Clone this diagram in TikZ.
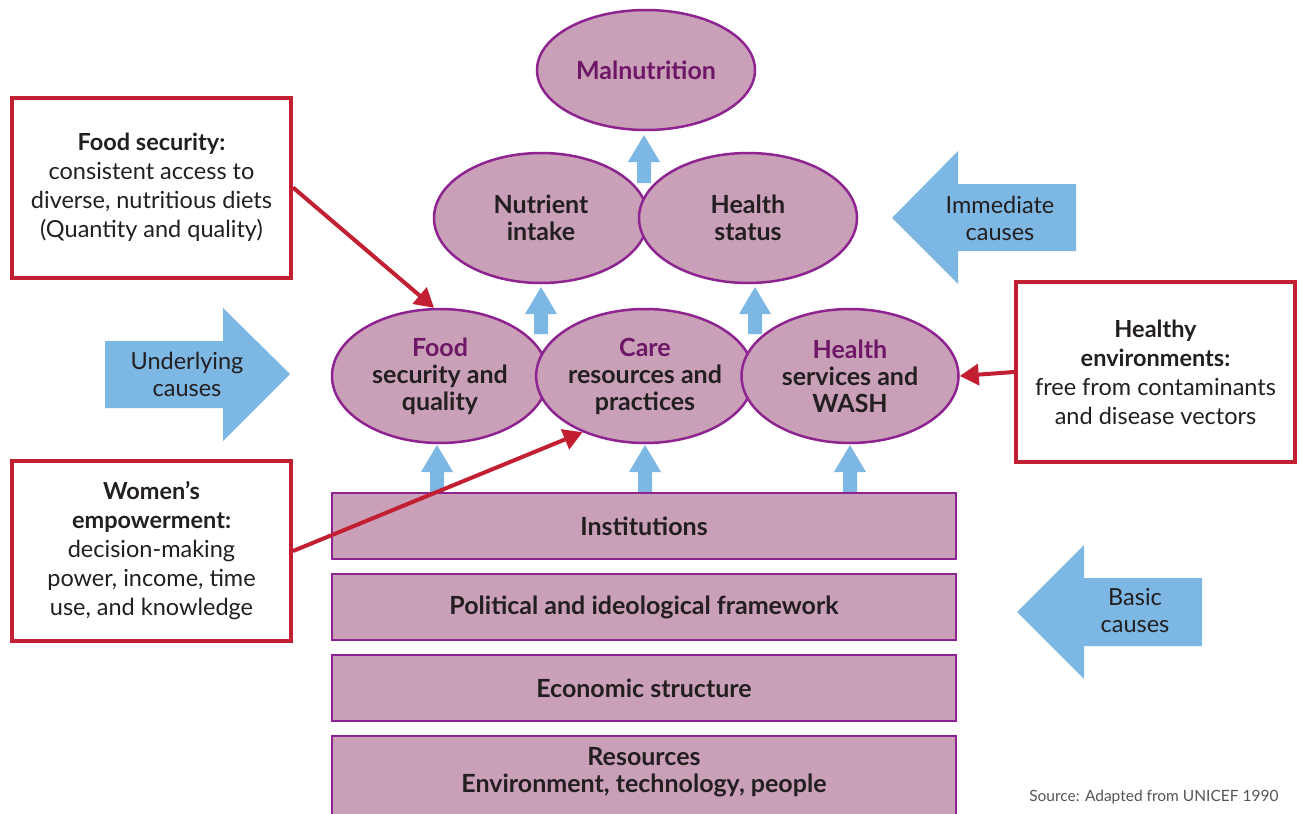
\documentclass[tikz,border=0pt]{standalone}
\usepackage{fontspec}
\setmainfont{Lato}
\usetikzlibrary{shapes.geometric,arrows.meta}
\definecolor{ellfill}{HTML}{C9A0B8}
\definecolor{ellline}{HTML}{8E2490}
\definecolor{purptext}{HTML}{6E1767}
\definecolor{bluearr}{HTML}{7DB7E3}
\definecolor{redline}{HTML}{C21F32}
\definecolor{txt}{HTML}{231F20}
\definecolor{srcgray}{HTML}{555555}
\newcommand\blueup[3]{%
  \fill[bluearr] (#1,#2) -- (#1+16,#2+27) -- (#1+7,#2+27) -- (#1+7,#3) -- (#1-7,#3) -- (#1-7,#2+27) -- (#1-16,#2+27) -- cycle;}
\tikzset{
  ell/.style={ellipse, draw=ellline, fill=ellfill, line width=2.5pt, inner sep=0pt, align=center,
    text=txt, font=\fontsize{25}{27}\selectfont\bfseries},
  layerbox/.style={rectangle, draw=ellline, fill=ellfill, line width=2.5pt, inner sep=0pt,
    minimum width=624pt, minimum height=66pt, align=center, text=txt, font=\fontsize{25}{27}\selectfont\bfseries},
  redbox/.style={rectangle, draw=redline, fill=white, line width=4pt, inner sep=0pt,
    minimum width=279pt, minimum height=180pt, align=center, text=txt, font=\fontsize{23.5}{29}\selectfont},
  bluelabel/.style={align=center, text=txt, font=\fontsize{23.5}{27}\selectfont},
  redarrow/.style={draw=redline, line width=4pt, -{Triangle[length=19pt,width=21pt]}},
}
\begin{document}
\begin{tikzpicture}[x=1pt,y=-1pt]
\clip (0,0) rectangle (1299,814);
\fill[white] (0,0) rectangle (1299,814);

% big blue arrows
\fill[bluearr] (892,218) -- (958,151) -- (958,184) -- (1076,184) -- (1076,251) -- (958,251) -- (958,284) -- cycle;
\node[bluelabel] (immlab) at (1000,218) {Immediate\\causes};
\fill[bluearr] (290,374) -- (223,308) -- (223,341) -- (105,341) -- (105,408) -- (223,408) -- (223,441) -- cycle;
\node[bluelabel] (undlab) at (187,374) {Underlying\\causes};
\fill[bluearr] (1017,612) -- (1084,545) -- (1084,578) -- (1202,578) -- (1202,646) -- (1084,646) -- (1084,679) -- cycle;
\node[bluelabel] (baslab) at (1135,611) {Basic\\causes};

% small up arrows
\blueup{644}{135}{183}
\blueup{541}{287}{334}
\blueup{755}{287}{334}
\blueup{437}{445}{492}
\blueup{645}{445}{492}
\blueup{850}{445}{492}

% ellipses
\node[ell, minimum width=218pt, minimum height=120pt, text=purptext] (mal) at (646,70) {Malnutrition};
\node[ell, minimum width=214pt, minimum height=130pt] (nut) at (541,218) {Nutrient\\intake};
\node[ell, minimum width=218pt, minimum height=130pt] (hst) at (748,218) {Health\\status};
\node[ell, minimum width=216pt, minimum height=134pt] (food) at (440,376) {\textcolor{purptext}{Food}\\security and\\quality};
\node[ell, minimum width=214pt, minimum height=134pt] (care) at (645,376) {\textcolor{purptext}{Care}\\resources and\\practices};
\node[ell, minimum width=217pt, minimum height=134pt] (hsw) at (850,376) {\textcolor{purptext}{Health}\\services and\\WASH};

% layer boxes
\node[layerbox] (inst) at (644,526) {Institutions};
\node[layerbox] (pol) at (644,607) {Political and ideological framework};
\node[layerbox] (eco) at (644,688) {Economic structure};
\node[layerbox, minimum height=100pt] (res) at (644,786) {};
\node[align=center, text=txt, font=\fontsize{25}{27}\selectfont\bfseries] (reslab) at (644,772) {Resources\\Environment, technology, people};

% red boxes
\node[redbox] (fs) at (151.5,187.5) {\textbf{Food security:}\\consistent access to\\diverse, nutritious diets\\(Quantity and quality)};
\node[redbox] (we) at (151.5,551) {\textbf{Women’s}\\\textbf{empowerment:}\\decision-making\\power, income, time\\use, and knowledge};
\node[redbox] (he) at (1155.5,372) {\textbf{Healthy}\\\textbf{environments:}\\free from contaminants\\and disease vectors};

% red connectors
\draw[redarrow] (fs.east) -- (food.95);
\draw[redarrow] (we.east) -- (care.222);
\draw[redarrow] (he.west) -- (hsw.east);

% source
\node[text=srcgray, font=\fontsize{15.5}{17}\selectfont, anchor=east] (src) at (1282,797) {Source: Adapted from UNICEF 1990};
\end{tikzpicture}
\end{document}
